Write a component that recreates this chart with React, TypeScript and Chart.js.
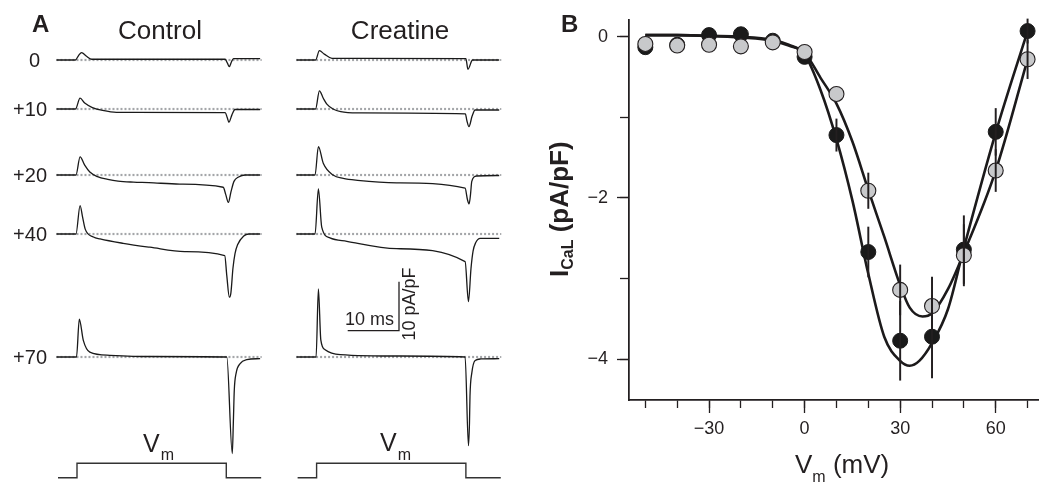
import { useEffect, useRef } from "react";
import { Chart, registerables } from "chart.js";

Chart.register(...registerables);

const FONT = "'Liberation Sans', Arial, Helvetica, sans-serif";
const INK = "#231f20";
const TRACE = "#1a1a1a";

// ---------------- Panel A data (t in ms from pulse onset, I in pA/pF) ----------------
type Pt = [number, number];
const rowLabels = ["0", "+10", "+20", "+40", "+70"];

const control0: Pt[] = [[-4, 0], [-0.3, 0], [0.3, 0.9], [0.9, 1.5], [1.8, 0.8], [2.9, 0.15], [28.9, 0.15], [29.3, -0.6], [29.7, -1.35], [30.1, -0.4], [30.5, 0.3], [35.7, 0.3]];
const control10: Pt[] = [[-4, 0], [-0.3, 0], [0.6, 2.2], [1.5, 1.2], [3, 0.3], [5, -0.3], [7.7, -0.7], [28.9, -0.75], [29.3, -1.8], [29.6, -2.7], [30.2, -1.2], [30.8, -0.1], [35.7, -0.1]];
const control20: Pt[] = [[-4, 0], [-0.2, 0], [0.6, 3.7], [1.5, 2.0], [2.5, 0.6], [4, -0.35], [6, -0.9], [8, -1.25], [11, -1.45], [14, -1.55], [20, -1.85], [28.5, -2.5], [29.0, -4.0], [29.5, -5.6], [30, -3.5], [30.6, -1.3], [31.5, -0.4], [32.8, 0], [35.7, 0]];
const control40: Pt[] = [[-4, 0], [-0.2, 0], [0.6, 5.8], [1.1, 3.4], [1.6, 1.0], [3.2, -0.6], [4.5, -1.0], [9, -1.9], [14.2, -2.7], [21, -3.6], [28.8, -4.4], [29.2, -8.5], [29.7, -12.9], [30.0, -12], [30.4, -7], [30.8, -4], [31.3, -2.2], [32.5, -0.4], [33.5, 0], [35.7, 0]];
const control70: Pt[] = [[-4, 0], [-0.1, 0], [0.45, 7.7], [1.23, 3.4], [2.5, 1.0], [6.4, 0.35], [14.2, 0.1], [29.2, 0], [30.27, -19.7], [30.47, -13.6], [30.66, -6.8], [31.0, -3.4], [31.8, -1.35], [33.1, -0.55], [35.7, -0.33]];

const creatine0: Pt[] = [[-3.9, 0], [-0.2, 0], [0.55, 1.9], [1.5, 1.2], [3.0, 0.35], [29.1, 0.3], [29.5, -1.9], [30.4, 0], [35.6, 0]];
const creatine10: Pt[] = [[-3.9, 0], [-0.2, 0], [0.55, 3.7], [1.3, 2.2], [2.0, 1.0], [3.2, 0.0], [4.7, -0.55], [8, -0.8], [29, -1.0], [29.3, -2.4], [29.7, -3.6], [30.3, -1.5], [30.9, -0.2], [35.6, -0.2]];
const creatine20: Pt[] = [[-3.9, 0], [-0.3, 0], [0.35, 5.8], [1.3, 2.4], [3.2, 0], [5.2, -0.7], [8, -1.1], [15.6, -1.6], [28.95, -2.7], [29.4, -5.0], [29.73, -5.9], [30.0, -4.0], [30.25, -1.3], [31.2, -0.2], [35.6, -0.1]];
const creatine40: Pt[] = [[-3.9, 0], [-0.3, 0], [0.35, 9.2], [1.0, 1.4], [2.6, -0.8], [5.9, -1.5], [15.6, -3.0], [28.95, -5.65], [29.6, -13.8], [30.1, -7], [30.5, -3.5], [31.0, -1.8], [31.9, -0.9], [35.6, -0.9]];
const creatine70: Pt[] = [[-3.9, 0], [-0.1, 0], [0.35, 13.9], [0.82, 3.5], [1.66, 1.5], [4.6, 0.5], [16.3, 0.2], [28.95, 0], [29.6, -18.1], [29.8, -13.5], [29.9, -8], [30.25, -3.3], [30.9, -0.7], [32, -0.4], [35.6, -0.35]];

const controlTraces = [control0, control10, control20, control40, control70];
const creatineTraces = [creatine0, creatine10, creatine20, creatine40, creatine70];

const vmTimes = [-3.7, 0, 0, 29.1, 29.1, 35.9];
const vmLevels = [0, 0, 1, 1, 0, 0];
const baselineSpan = [-4, 36];
const scaleBarMs = 10;
const scaleBarPApF = 10;

// ---------------- Panel B data ----------------
const voltages = [-50, -40, -30, -20, -10, 0, 10, 20, 30, 40, 50, 60, 70];
const controlMean = [-0.13, -0.1, 0.02, 0.03, -0.05, -0.25, -1.22, -2.67, -3.77, -3.72, -2.64, -1.18, 0.07];
const controlSem = [0, 0, 0, 0, 0, 0, 0.2, 0.31, 0.49, 0.51, 0.42, 0.29, 0.15];
const creatineMean = [-0.09, -0.11, -0.1, -0.12, -0.07, -0.19, -0.71, -1.91, -3.14, -3.34, -2.71, -1.66, -0.28];
const creatineSem = [0, 0, 0, 0, 0, 0, 0, 0.22, 0.31, 0.36, 0.38, 0.26, 0.24];

const controlFitV = [-50, -40, -30, -20, -10, -5, 0, 5, 10, 15, 20, 25, 30, 33, 36, 40, 45, 50, 60, 70];
const controlFitI = [0.02, 0.02, 0.01, 0, -0.04, -0.1, -0.22, -0.66, -1.27, -2.03, -2.94, -3.72, -4.02, -4.08, -4.02, -3.8, -3.38, -2.62, -1.19, 0.07];
const creatineFitV = [-50, -40, -30, -20, -10, -5, 0, 5, 10, 15, 20, 25, 30, 33, 37, 40, 45, 50, 60, 70];
const creatineFitI = [0.02, 0.02, 0.01, -0.01, -0.05, -0.11, -0.2, -0.51, -0.83, -1.3, -1.9, -2.48, -3.08, -3.36, -3.47, -3.43, -3.13, -2.68, -1.66, -0.28];

const xMajorStep = 30;
const xMinorStep = 10;
const yMajorStep = 2;
const yMinorStep = 1;

// ---------------- layout constants ----------------
const H = 483;
const A_W = 540;
const B_W = 507;
const A_PX_PER_MS = 5.13;
const A_PX_PER_UNIT = 4.9;
const A_T0_PX = 77;
const A_ROW0_PX = 60;
const rowBaselinePx = [60, 109, 175, 234, 357];
const vmBaselinePx = 477.8;
const vmStepPx = 14.5;
const creatineShiftMs = (316.6 - 77) / A_PX_PER_MS;
const scaleBarCornerPx = [399, 330.7];

const tOf = (px: number) => (px - A_T0_PX) / A_PX_PER_MS;
const uOf = (py: number) => (A_ROW0_PX - py) / A_PX_PER_UNIT;

const minus = (v: number) => (v < 0 ? "\u2212" + Math.abs(v) : String(v));

function drawSub(ctx: CanvasRenderingContext2D, main: string, sub: string, x: number, y: number, mainFont: string, subFont: string, drop: number, gap = 0) {
  ctx.font = mainFont;
  ctx.fillText(main, x, y);
  const w = ctx.measureText(main).width;
  ctx.font = subFont;
  ctx.fillText(sub, x + w + gap, y + drop);
  return x + w + gap + ctx.measureText(sub).width;
}

const panelAText = {
  id: "panelAText",
  afterDraw(chart: any) {
    const ctx: CanvasRenderingContext2D = chart.ctx;
    ctx.save();
    ctx.fillStyle = INK;
    ctx.textBaseline = "alphabetic";
    ctx.textAlign = "left";
    ctx.font = `bold 24px ${FONT}`;
    ctx.fillText("A", 32, 32);
    ctx.font = `26px ${FONT}`;
    ctx.textAlign = "center";
    ctx.fillText("Control", 160, 39);
    ctx.fillText("Creatine", 400, 39);
    ctx.font = `20px ${FONT}`;
    ctx.textAlign = "right";
    rowLabels.forEach((lab, i) => ctx.fillText(lab, i === 0 ? 40 : 47, rowBaselinePx[i] + 7));
    ctx.textAlign = "left";
    drawSub(ctx, "V", "m", 143, 452, `25px ${FONT}`, `16px ${FONT}`, 8, 1);
    drawSub(ctx, "V", "m", 380, 451, `25px ${FONT}`, `16px ${FONT}`, 9, 1);
    ctx.font = `18px ${FONT}`;
    ctx.fillText("10 ms", 345, 325);
    ctx.translate(414.5, 304);
    ctx.rotate(-Math.PI / 2);
    ctx.textAlign = "center";
    ctx.fillText("10 pA/pF", 0, 0);
    ctx.restore();
  },
};

const panelBText = {
  id: "panelBText",
  afterDraw(chart: any) {
    const ctx: CanvasRenderingContext2D = chart.ctx;
    ctx.save();
    ctx.fillStyle = INK;
    ctx.textBaseline = "alphabetic";
    ctx.textAlign = "left";
    ctx.font = `bold 24px ${FONT}`;
    ctx.fillText("B", 21, 32);
    // x title
    const end = drawSub(ctx, "V", "m", 255, 473, `26px ${FONT}`, `16px ${FONT}`, 9, 0);
    ctx.font = `26px ${FONT}`;
    ctx.fillText(" (mV)", end, 473);
    // y title
    ctx.translate(28, 277);
    ctx.rotate(-Math.PI / 2);
    const e2 = drawSub(ctx, "I", "CaL", 0, 0, `bold 26px ${FONT}`, `bold 16px ${FONT}`, 5, 0);
    ctx.font = `bold 26px ${FONT}`;
    ctx.fillText(" (pA/pF)", e2, 0);
    ctx.restore();
  },
};

export default function App() {
  const refA = useRef<HTMLCanvasElement>(null);
  const refB = useRef<HTMLCanvasElement>(null);

  useEffect(() => {
    Chart.defaults.font.family = FONT;
    const rowOffsets = rowBaselinePx.map((p) => uOf(p));
    const dsA: any[] = [];
    const line = (pts: { x: number; y: number }[], color: string, width: number, extra: any = {}) => ({
      type: "line",
      data: pts,
      borderColor: color,
      borderWidth: width,
      pointRadius: 0,
      fill: false,
      clip: false,
      ...extra,
    });
    // dotted baselines
    rowOffsets.forEach((off) => {
      [0, creatineShiftMs].forEach((shift) => {
        dsA.push(line(baselineSpan.map((t) => ({ x: t + shift, y: off })), "#a4a6a9", 2.2, { borderDash: [2, 2], order: 5 }));
      });
    });
    controlTraces.forEach((tr, i) => {
      dsA.push(line(tr.map(([t, v]) => ({ x: t, y: v + rowOffsets[i] })), TRACE, 1.3, { cubicInterpolationMode: "monotone", order: 1 }));
    });
    creatineTraces.forEach((tr, i) => {
      dsA.push(line(tr.map(([t, v]) => ({ x: t + creatineShiftMs, y: v + rowOffsets[i] })), TRACE, 1.3, { cubicInterpolationMode: "monotone", order: 1 }));
    });
    const vmBase = uOf(vmBaselinePx);
    const vmStep = vmStepPx / A_PX_PER_UNIT;
    [0, creatineShiftMs].forEach((shift) => {
      dsA.push(line(vmTimes.map((t, i) => ({ x: t + shift, y: vmBase + vmLevels[i] * vmStep })), "#333", 1.4, { tension: 0, order: 1 }));
    });
    const cx = tOf(scaleBarCornerPx[0]);
    const cy = uOf(scaleBarCornerPx[1]);
    dsA.push(line([{ x: cx - scaleBarMs, y: cy }, { x: cx, y: cy }, { x: cx, y: cy + scaleBarPApF }], INK, 1.3, { tension: 0, order: 1 }));

    const chartA = new Chart(refA.current as HTMLCanvasElement, {
      type: "line",
      data: { datasets: dsA },
      options: {
        responsive: false,
        animation: false,
        events: [],
        layout: { padding: 0 },
        plugins: { legend: { display: false }, tooltip: { enabled: false } },
        scales: {
          x: { type: "linear", display: false, min: tOf(0), max: tOf(A_W) },
          y: { type: "linear", display: false, min: uOf(H), max: uOf(0) },
        },
      } as any,
      plugins: [panelAText],
    });

    // ---------------- Panel B ----------------
    const pts = (xs: number[], ys: number[]) => xs.map((x, i) => ({ x, y: ys[i] }));
    const errs = (xs: number[], m: number[], s: number[]) =>
      xs.map((x, i) => ({ x, y: [m[i] - s[i], m[i] + s[i]] })).filter((_, i) => s[i] > 0);
    const X_MIN = -55.13;
    const X_MAX = 73.4;
    const Y_MIN = -4.505;
    const Y_MAX = 0.207;
    const tickFont = { family: FONT, size: 18 };
    const common = (min: number, max: number) => ({ type: "linear", min, max, offset: false });
    const chartB = new Chart(refB.current as HTMLCanvasElement, {
      type: "line",
      data: {
        datasets: [
          { type: "bar", data: errs(voltages, controlMean, controlSem), backgroundColor: INK, borderWidth: 0, barThickness: 1.3, grouped: false, order: 1, clip: false },
          { type: "bar", data: errs(voltages, creatineMean, creatineSem), backgroundColor: INK, borderWidth: 0, barThickness: 1.3, grouped: false, order: 1, clip: false },
          { type: "line", data: pts(voltages, creatineMean), showLine: false, pointRadius: 7.5, pointBackgroundColor: "#c8c9cb", pointBorderColor: INK, pointBorderWidth: 1.1, order: 2, clip: false },
          { type: "line", data: pts(voltages, controlMean), showLine: false, pointRadius: 7.5, pointBackgroundColor: TRACE, pointBorderColor: TRACE, pointBorderWidth: 1, order: 3, clip: false },
          { type: "line", data: pts(controlFitV, controlFitI), borderColor: "#1c1a1b", borderWidth: 2.6, pointRadius: 0, cubicInterpolationMode: "monotone", order: 4, clip: false },
          { type: "line", data: pts(creatineFitV, creatineFitI), borderColor: "#1c1a1b", borderWidth: 2.6, pointRadius: 0, cubicInterpolationMode: "monotone", order: 4, clip: false },
        ],
      } as any,
      options: {
        responsive: false,
        animation: false,
        events: [],
        layout: { padding: { top: 20, left: 0, right: 0, bottom: 0 } },
        plugins: { legend: { display: false }, tooltip: { enabled: false } },
        scales: {
          xMinor: {
            ...common(X_MIN, X_MAX),
            position: "bottom",
            weight: 0,
            ticks: { stepSize: xMinorStep, display: false, includeBounds: false, autoSkip: false },
            grid: { drawOnChartArea: false, drawTicks: true, tickLength: 8, tickWidth: 1.3, tickColor: INK, offset: false },
            border: { color: INK, width: 1.5 },
            afterFit: (s: any) => { s.height = 0; },
          },
          x: {
            ...common(X_MIN, X_MAX),
            position: "bottom",
            weight: 1,
            ticks: { stepSize: xMajorStep, includeBounds: false, autoSkip: false, maxRotation: 0, padding: 5, color: INK, font: tickFont, callback: (v: any) => minus(Number(v)) },
            grid: { drawOnChartArea: false, drawTicks: true, tickLength: 13, tickWidth: 1.3, tickColor: INK, offset: false },
            border: { color: INK, width: 1.5 },
            afterFit: (s: any) => { s.height = 83; },
          },
          yMinor: {
            ...common(Y_MIN, Y_MAX),
            position: "left",
            weight: 0,
            ticks: { stepSize: yMinorStep, display: false, includeBounds: false, autoSkip: false },
            grid: { drawOnChartArea: false, drawTicks: true, tickLength: 9, tickWidth: 1.3, tickColor: INK },
            border: { color: INK, width: 1.5 },
            afterFit: (s: any) => { s.width = 0; },
          },
          y: {
            ...common(Y_MIN, Y_MAX),
            position: "left",
            weight: 1,
            ticks: { stepSize: yMajorStep, includeBounds: false, autoSkip: false, padding: 9, color: INK, font: tickFont, callback: (v: any) => minus(Number(v)) },
            grid: { drawOnChartArea: false, drawTicks: true, tickLength: 12, tickWidth: 1.3, tickColor: INK },
            border: { color: INK, width: 1.5 },
            afterFit: (s: any) => { s.width = 89; },
          },
        },
      } as any,
      plugins: [panelBText],
    });

    return () => {
      chartA.destroy();
      chartB.destroy();
    };
  }, []);

  return (
    <div style={{ position: "absolute", left: 0, top: 0, width: A_W + B_W, height: H, background: "#fff" }}>
      <canvas ref={refA} width={A_W} height={H} style={{ position: "absolute", left: 0, top: 0, display: "block" }} />
      <canvas ref={refB} width={B_W} height={H} style={{ position: "absolute", left: A_W, top: 0, display: "block" }} />
    </div>
  );
}
